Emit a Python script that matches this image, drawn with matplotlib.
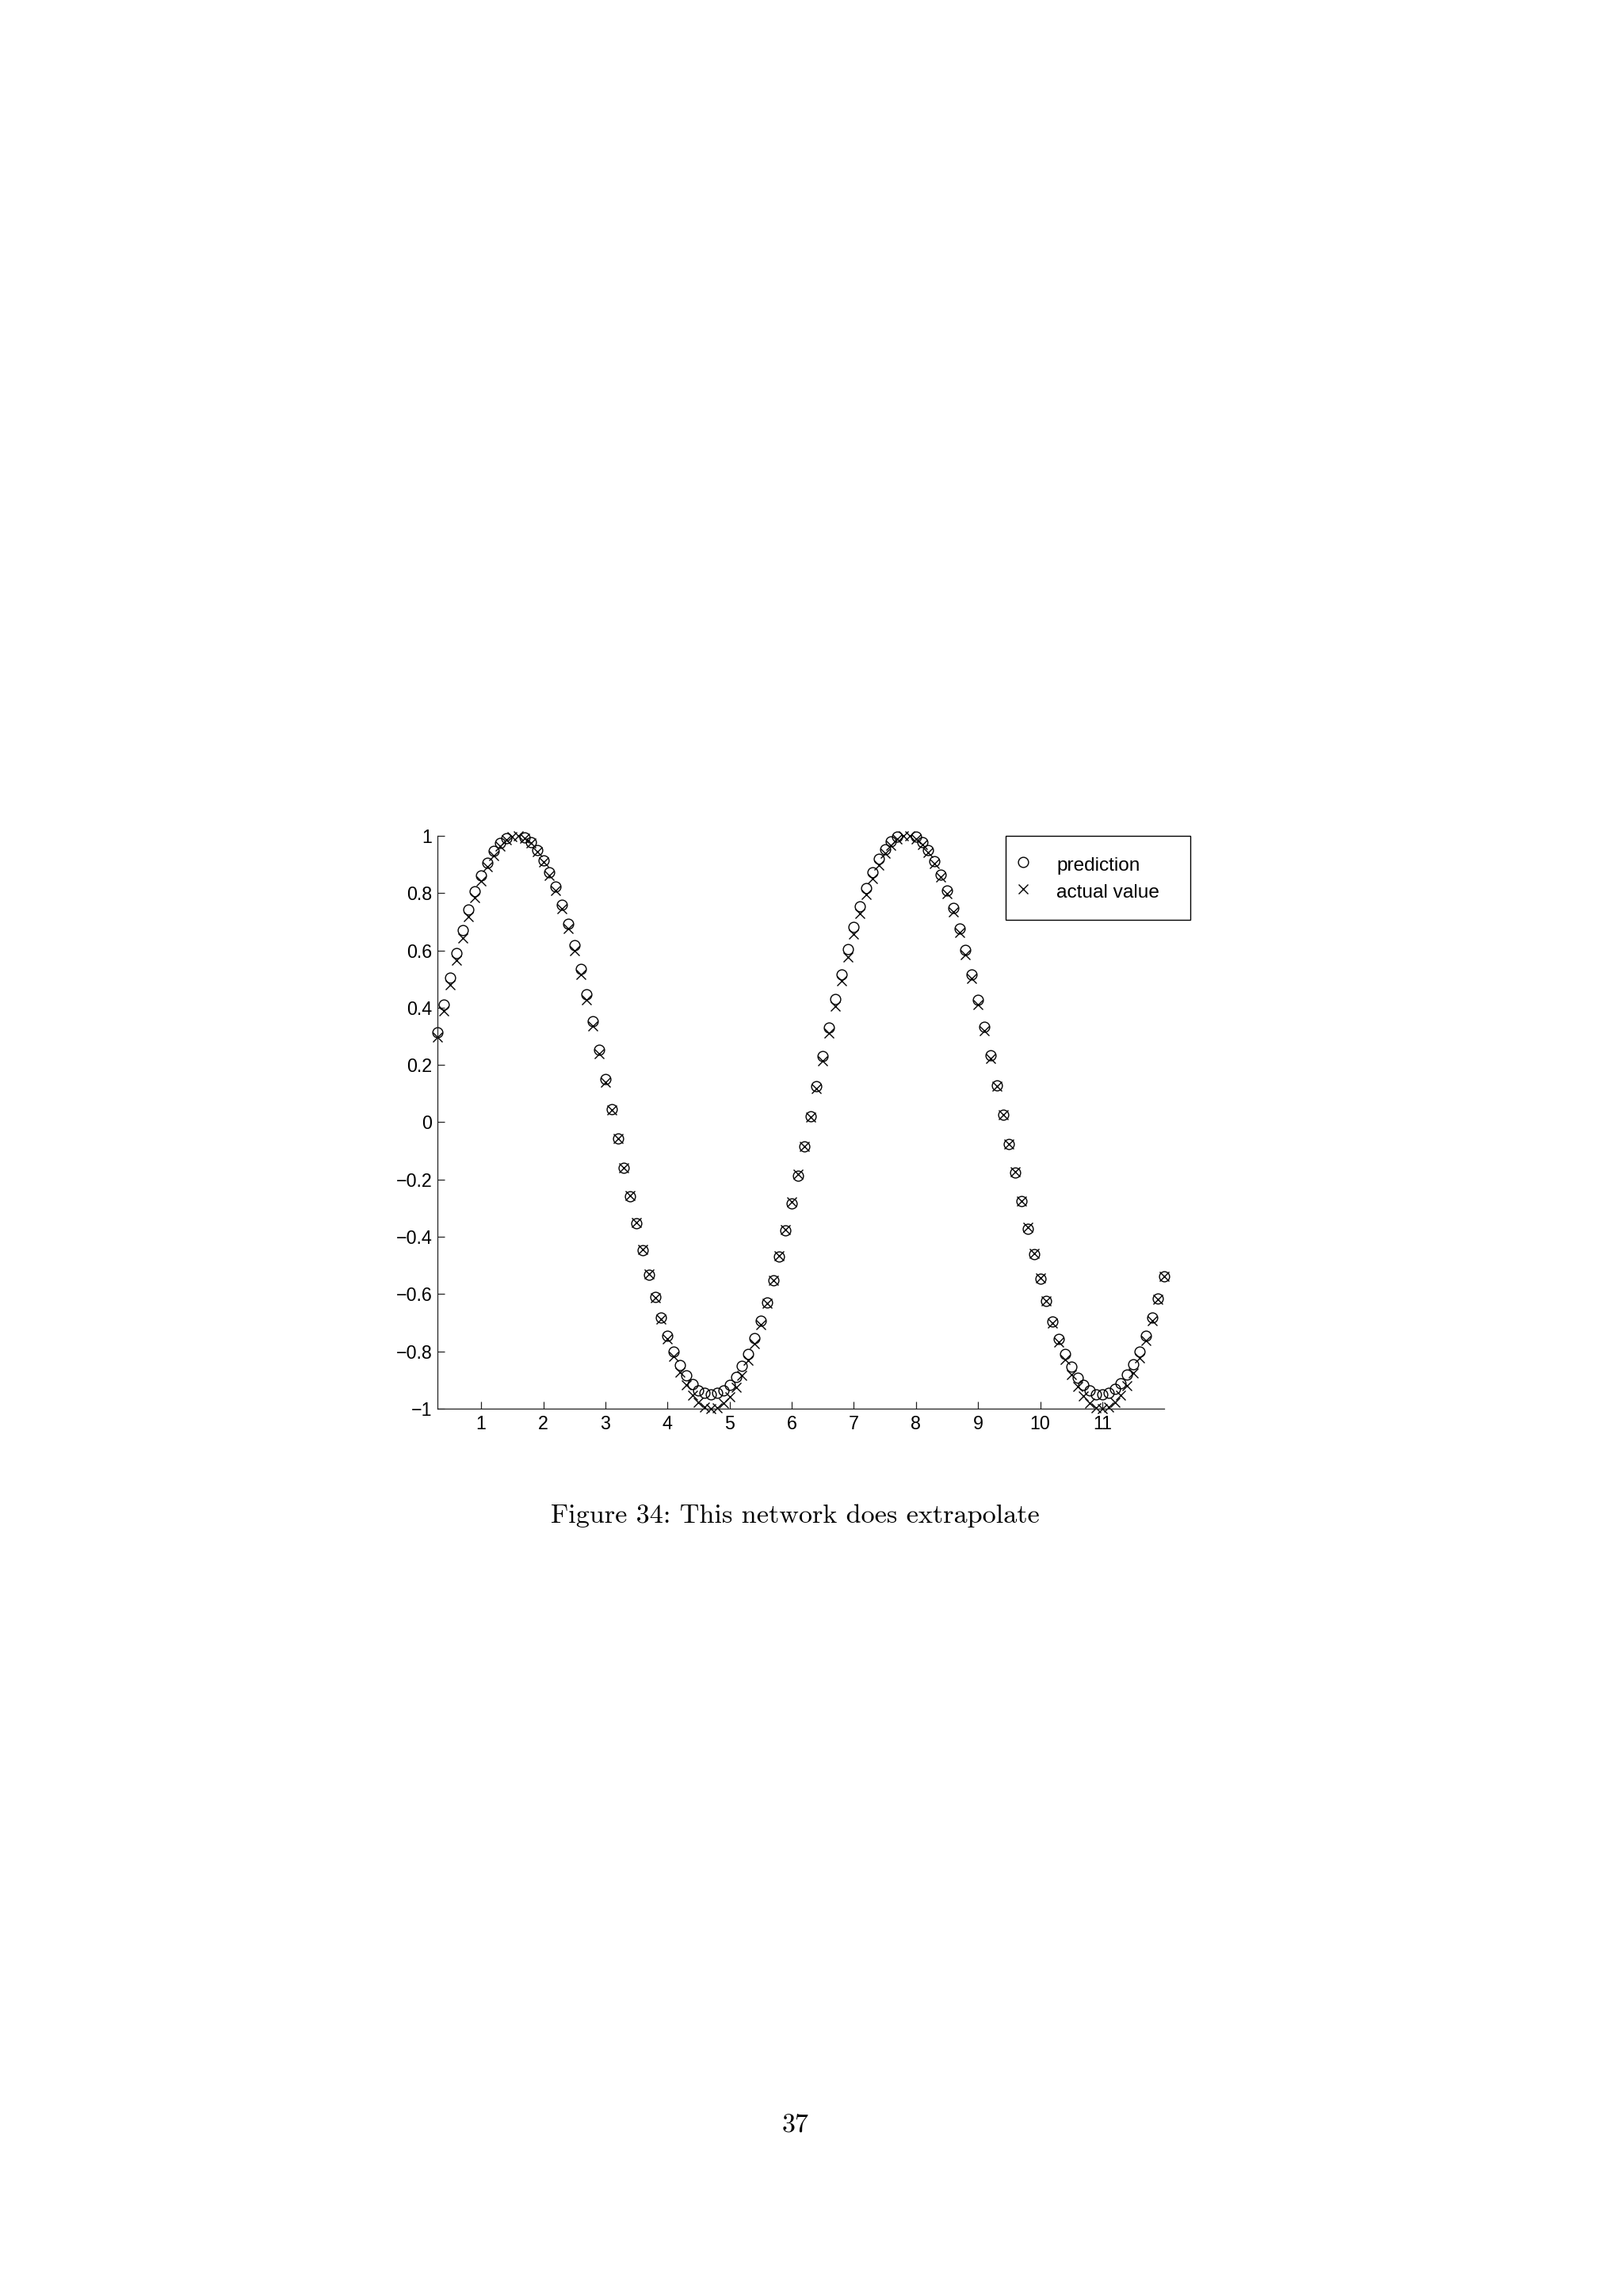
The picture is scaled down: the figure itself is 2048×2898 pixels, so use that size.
import numpy as np
import matplotlib
matplotlib.use("Agg")
import matplotlib.pyplot as plt

# ---- data ----
x_vals = [0.3, 0.4, 0.5, 0.6, 0.7, 0.8, 0.9, 1.0, 1.1, 1.2, 1.3, 1.4, 1.5, 1.6, 1.7, 1.8, 1.9, 2.0,
          2.1, 2.2, 2.3, 2.4, 2.5, 2.6, 2.7, 2.8, 2.9, 3.0, 3.1, 3.2, 3.3, 3.4, 3.5, 3.6, 3.7, 3.8,
          3.9, 4.0, 4.1, 4.2, 4.3, 4.4, 4.5, 4.6, 4.7, 4.8, 4.9, 5.0, 5.1, 5.2, 5.3, 5.4, 5.5, 5.6,
          5.7, 5.8, 5.9, 6.0, 6.1, 6.2, 6.3, 6.4, 6.5, 6.6, 6.7, 6.8, 6.9, 7.0, 7.1, 7.2, 7.3, 7.4,
          7.5, 7.6, 7.7, 7.8, 7.9, 8.0, 8.1, 8.2, 8.3, 8.4, 8.5, 8.6, 8.7, 8.8, 8.9, 9.0, 9.1, 9.2,
          9.3, 9.4, 9.5, 9.6, 9.7, 9.8, 9.9, 10.0, 10.1, 10.2, 10.3, 10.4, 10.5, 10.6, 10.7, 10.8,
          10.9, 11.0, 11.1, 11.2, 11.3, 11.4, 11.5, 11.6, 11.7, 11.8, 11.9, 12.0]

prediction = [0.315, 0.412, 0.505, 0.591, 0.671, 0.744, 0.805, 0.861, 0.907, 0.947, 0.974, 0.993,
              1.004, 1.003, 0.995, 0.977, 0.951, 0.915, 0.873, 0.822, 0.759, 0.693, 0.617, 0.534,
              0.447, 0.353, 0.253, 0.151, 0.047, -0.058, -0.159, -0.259, -0.354, -0.446, -0.532,
              -0.611, -0.683, -0.745, -0.800, -0.847, -0.884, -0.914, -0.937, -0.946, -0.951,
              -0.946, -0.937, -0.916, -0.888, -0.851, -0.808, -0.754, -0.693, -0.628, -0.551,
              -0.468, -0.377, -0.284, -0.186, -0.083, 0.022, 0.126, 0.230, 0.331, 0.431, 0.516,
              0.605, 0.682, 0.754, 0.818, 0.874, 0.919, 0.954, 0.980, 0.997, 1.004, 1.003, 0.997,
              0.977, 0.949, 0.911, 0.864, 0.808, 0.749, 0.677, 0.602, 0.516, 0.428, 0.334, 0.233,
              0.130, 0.027, -0.075, -0.176, -0.275, -0.372, -0.460, -0.545, -0.625, -0.695, -0.757,
              -0.810, -0.854, -0.891, -0.918, -0.937, -0.949, -0.951, -0.945, -0.932, -0.912,
              -0.882, -0.845, -0.800, -0.746, -0.683, -0.616, -0.538]

actual_value = [0.296, 0.389, 0.479, 0.565, 0.644, 0.717, 0.783, 0.841, 0.891, 0.932, 0.964, 0.985,
                0.997, 1.000, 0.992, 0.974, 0.946, 0.909, 0.863, 0.808, 0.746, 0.675, 0.598, 0.516,
                0.427, 0.335, 0.239, 0.141, 0.042, -0.058, -0.158, -0.256, -0.351, -0.443, -0.530,
                -0.612, -0.688, -0.757, -0.818, -0.872, -0.916, -0.952, -0.978, -0.994, -1.000,
                -0.996, -0.982, -0.959, -0.926, -0.883, -0.832, -0.773, -0.706, -0.631, -0.551,
                -0.465, -0.374, -0.279, -0.182, -0.083, 0.017, 0.117, 0.215, 0.312, 0.405, 0.494,
                0.578, 0.657, 0.729, 0.794, 0.850, 0.899, 0.938, 0.968, 0.988, 0.999, 0.999, 0.989,
                0.970, 0.941, 0.902, 0.855, 0.798, 0.734, 0.663, 0.585, 0.501, 0.412, 0.319, 0.223,
                0.125, 0.025, -0.075, -0.174, -0.275, -0.367, -0.458, -0.544, -0.625, -0.700, -0.768,
                -0.828, -0.880, -0.923, -0.957, -0.981, -0.996, -1.000, -0.994, -0.979, -0.954,
                -0.920, -0.876, -0.823, -0.762, -0.694, -0.618, -0.537]

x_ticks = [1, 2, 3, 4, 5, 6, 7, 8, 9, 10, 11]
y_ticks = [-1, -0.8, -0.6, -0.4, -0.2, 0, 0.2, 0.4, 0.6, 0.8, 1]
y_tick_labels = ["\u22121", "\u22120.8", "\u22120.6", "\u22120.4", "\u22120.2", "0",
                 "0.2", "0.4", "0.6", "0.8", "1"]
series_labels = ["prediction", "actual value"]
caption = "Figure 34: This network does extrapolate"
page_number = "37"

# ---- figure ----
W, H, DPI = 2048, 2898, 200
fig = plt.figure(figsize=(W / DPI, H / DPI), dpi=DPI)
fig.patch.set_facecolor("white")

ax_l, ax_r, ax_t, ax_b = 552.3, 1469.3, 1055.0, 1778.0
ax = fig.add_axes([ax_l / W, 1 - ax_b / H, (ax_r - ax_l) / W, (ax_b - ax_t) / H])

ylo, yhi = -1.0, 1.0
xv = np.array(x_vals)
pv = np.array(prediction)
av = np.array(actual_value)
# markers whose data lie outside the y-limits are not drawn (as in the original)
mp = (pv <= yhi) & (pv >= ylo)
ma = (av <= yhi) & (av >= ylo)

ms = 4.6
mew = 0.5
ax.plot(xv[mp], pv[mp], linestyle="none", marker="o", markersize=ms, markerfacecolor="none",
        markeredgecolor="black", markeredgewidth=mew, clip_on=False, label=series_labels[0])
ax.plot(xv[ma], av[ma], linestyle="none", marker="x", markersize=ms,
        markeredgecolor="black", markeredgewidth=mew, clip_on=False, label=series_labels[1])

ax.set_xlim(0.3, 12.0)
ax.set_ylim(ylo, yhi)
ax.set_xticks(x_ticks)
ax.set_xticklabels([str(t) for t in x_ticks])
ax.set_yticks(y_ticks)
ax.set_yticklabels(y_tick_labels)

for s in ["top", "right"]:
    ax.spines[s].set_visible(False)
for s in ["left", "bottom"]:
    ax.spines[s].set_linewidth(0.45)
    ax.spines[s].set_color("#222222")

tick_font = "Liberation Sans"
ax.tick_params(axis="both", direction="in", length=3.35, width=0.45, color="#222222",
               labelsize=8.4, labelcolor="black")
ax.tick_params(axis="y", pad=2.5)
ax.tick_params(axis="x", pad=3.0)
for lab in ax.get_xticklabels() + ax.get_yticklabels():
    lab.set_fontfamily(tick_font)

# legend
lg_l, lg_r, lg_t, lg_b = 1268.7, 1502.3, 1055.0, 1156.7
leg = ax.legend(loc="upper left",
                bbox_to_anchor=(lg_l / W, 1 - lg_b / H, (lg_r - lg_l) / W, (lg_b - lg_t) / H),
                bbox_transform=fig.transFigure, mode="expand", borderaxespad=0,
                prop={"family": tick_font, "size": 8.8},
                frameon=True, fancybox=False, framealpha=1, edgecolor="black",
                borderpad=0.9, handlelength=0.05, handleheight=1.39, labelspacing=0.25,
                handletextpad=1.68, markerscale=1.0)
leg.get_frame().set_linewidth(0.5)

# caption and page number
fig.text(1003.5 / W, 1 - 1913 / H, caption, ha="center", va="center",
         family="cmr10", fontsize=12.3)
fig.text(1003.6 / W, 1 - 2682 / H, page_number, ha="center", va="center",
         family="cmr10", fontsize=12.3)

fig.savefig("out.png", dpi=DPI, facecolor="white")
